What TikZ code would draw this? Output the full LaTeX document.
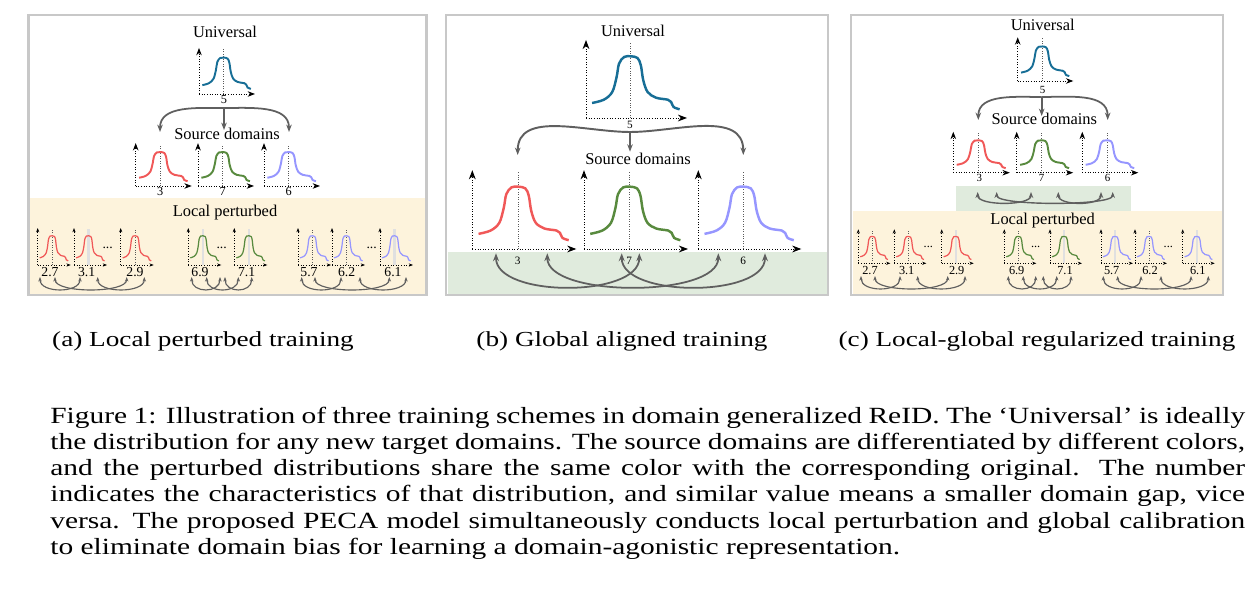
\documentclass[tikz,border=0pt]{standalone}
\usepackage{fontspec}
\setmainfont{Liberation Serif}
\newfontfamily\capfont[FakeStretch=1.27]{Liberation Serif}
\usetikzlibrary{arrows.meta}

\definecolor{unicol}{RGB}{23,110,150}
\definecolor{redcol}{RGB}{240,88,88}
\definecolor{greencol}{RGB}{88,138,62}
\definecolor{bluecol}{RGB}{150,150,255}
\definecolor{framecol}{RGB}{200,200,200}
\definecolor{localbg}{RGB}{253,243,220}
\definecolor{globalbg}{RGB}{224,235,221}
\definecolor{arrcol}{RGB}{95,95,95}

\tikzset{
  % one small distribution plot, 100 x 78 before scaling
  pics/dist/.style n args={4}{code={
    \draw[densely dotted, line width=0.5pt, -{Stealth[length=#3]}] (0,0) -- (0,-78);
    \draw[densely dotted, line width=0.5pt, -{Stealth[length=#3]}] (0,0) -- (100,0);
    \draw[#4] (44,0) -- (44,-76);
    \draw[#1, line width=#2] plot[smooth, tension=0.55] coordinates {(6,-15) (17.7,-18.3) (26,-26) (30.3,-41) (32.7,-54.3) (37.7,-61) (44.3,-61.7) (51,-60) (54.3,-52.7) (56.7,-37.7) (61,-26) (69.3,-20.3) (81,-18.3) (84.3,-16) (86.7,-11) (92.7,-8.7)};
  }},
  cdark/.style={black!65, densely dotted, line width=0.4pt},
  clight/.style={black!12, line width=1.3pt},
  frame/.style={draw=framecol, line width=1.4pt},
  ttl/.style={font=\fontsize{9.35}{11}\selectfont, inner sep=0pt, anchor=base},
  numlbl/.style={font=\fontsize{#1}{#1}\selectfont, inner sep=0pt, anchor=base},
  subcap/.style={font=\capfont\fontsize{12.2}{14}\selectfont, inner sep=0pt, anchor=base},
  capline/.style={font=\capfont\fontsize{13.2}{14.85}\selectfont, inner sep=0pt, anchor=base west},
  toparr/.style={arrcol, line width=#1, -{Stealth[length=4.2pt]}},
  duarr/.style 2 args={arrcol, line width=#1, {Stealth[length=#2]}-{Stealth[length=#2]}}
}

\begin{document}
\begin{tikzpicture}[x=0.02cm, y=-0.02cm]
    \useasboundingbox (0,0) rectangle (1258,597);

    % Backgrounds and frames
    \fill[localbg] (30,198) rectangle (425,293.6);
    \draw[frame] (28.5,15) rectangle (426.5,295);
    \fill[globalbg] (447.5,252) rectangle (826.5,293.6);
    \draw[frame] (446,15) rectangle (828,295);
    \fill[localbg] (852.5,211) rectangle (1221.5,293.6);
    \fill[globalbg] (956,186) rectangle (1131,211);
    \draw[frame] (851,15) rectangle (1223,295);

    % ---------- (a) Local perturbed training ----------
    \node[ttl] (a-uni) at (225,37.3) {Universal};
    \pic[xscale=.56, yscale=.59] at (199,94) {dist={unicol}{1.1pt}{4.2pt}{cdark}};
    \node[numlbl=7] (a-u5) at (224,104) {5};

    \coordinate (a-top) at (224,108);
    \coordinate (a-sl) at (160,132);
    \coordinate (a-sm) at (224,130);
    \coordinate (a-sr) at (289,132);
    \draw[toparr=1pt] (a-top) to[out=180, in=90] (a-sl);
    \draw[toparr=1pt] (a-top) -- (a-sm);
    \draw[toparr=1pt] (a-top) to[out=0, in=90] (a-sr);

    \node[ttl] (a-src) at (227,140) {Source domains};
    \pic[xscale=.56, yscale=.55] at (135.7,186) {dist={redcol}{1.1pt}{4.2pt}{cdark}};
    \pic[xscale=.56, yscale=.55] at (198,186) {dist={greencol}{1.1pt}{4.2pt}{cdark}};
    \pic[xscale=.56, yscale=.55] at (264,186) {dist={bluecol}{1.1pt}{4.2pt}{cdark}};
    \node[numlbl=7] (a-s3) at (160.3,196) {3};
    \node[numlbl=7] (a-s7) at (222.6,196) {7};
    \node[numlbl=7] (a-s6) at (288.6,196) {6};

    % local perturbed
    \node[ttl] (a-loc) at (225,216.7) {Local perturbed};
    \pic[xscale=.33, yscale=.474] at (37.7,265) {dist={redcol}{0.7pt}{2.4pt}{cdark}};
    \pic[xscale=.33, yscale=.474] at (74,265) {dist={redcol}{0.7pt}{2.4pt}{clight}};
    \pic[xscale=.33, yscale=.474] at (120.7,265) {dist={redcol}{0.7pt}{2.4pt}{cdark}};
    \pic[xscale=.33, yscale=.474] at (188.3,265) {dist={greencol}{0.7pt}{2.4pt}{clight}};
    \pic[xscale=.33, yscale=.474] at (234.3,265) {dist={greencol}{0.7pt}{2.4pt}{clight}};
    \pic[xscale=.33, yscale=.474] at (298,265) {dist={bluecol}{0.7pt}{2.4pt}{cdark}};
    \pic[xscale=.33, yscale=.474] at (332,265) {dist={bluecol}{0.7pt}{2.4pt}{cdark}};
    \pic[xscale=.33, yscale=.474] at (380,265) {dist={bluecol}{0.7pt}{2.4pt}{clight}};
    \node[numlbl=7.8] (a-l1) at (50,276.7) {2.7};
    \node[numlbl=7.8] (a-l2) at (86.7,276.7) {3.1};
    \node[numlbl=7.8] (a-l3) at (135,276.7) {2.9};
    \node[numlbl=7.8] (a-l4) at (200,276.7) {6.9};
    \node[numlbl=7.8] (a-l5) at (246.7,276.7) {7.1};
    \node[numlbl=7.8] (a-l6) at (309,276.7) {5.7};
    \node[numlbl=7.8] (a-l7) at (346.7,276.7) {6.2};
    \node[numlbl=7.8] (a-l8) at (393,276.7) {6.1};
    \node[numlbl=7.8] (a-d1) at (107.7,248.5) {...};
    \node[numlbl=7.8] (a-d2) at (221.7,248.5) {...};
    \node[numlbl=7.8] (a-d3) at (371.7,248.5) {...};

    \path (40,277) coordinate (ar1) (55,277) coordinate (ar2) (80,277) coordinate (ar3)
          (97.7,277) coordinate (ar4) (126.7,277) coordinate (ar5) (144.3,277) coordinate (ar6);
    \path (191.7,277) coordinate (ag1) (206.7,277) coordinate (ag2) (220,277) coordinate (ag3)
          (225,277) coordinate (ag4) (238.3,277) coordinate (ag5) (251.7,277) coordinate (ag6);
    \path (301.7,277) coordinate (ab1) (315,277) coordinate (ab2) (341,277) coordinate (ab3)
          (360,277) coordinate (ab4) (389.3,277) coordinate (ab5) (406,277) coordinate (ab6);
    \draw[duarr={0.65pt}{2.6pt}] (ar1) .. controls +(0,16.4) and +(0,16.4) .. (ar3);
    \draw[duarr={0.65pt}{2.6pt}] (ar2) .. controls +(0,16.4) and +(0,16.4) .. (ar5);
    \draw[duarr={0.65pt}{2.6pt}] (ar4) .. controls +(0,16.4) and +(0,16.4) .. (ar6);
    \draw[duarr={0.65pt}{2.6pt}] (ag1) .. controls +(0,16.4) and +(0,16.4) .. (ag3);
    \draw[duarr={0.65pt}{2.6pt}] (ag2) .. controls +(0,16.4) and +(0,16.4) .. (ag5);
    \draw[duarr={0.65pt}{2.6pt}] (ag4) .. controls +(0,16.4) and +(0,16.4) .. (ag6);
    \draw[duarr={0.65pt}{2.6pt}] (ab1) .. controls +(0,16.4) and +(0,16.4) .. (ab3);
    \draw[duarr={0.65pt}{2.6pt}] (ab2) .. controls +(0,16.4) and +(0,16.4) .. (ab5);
    \draw[duarr={0.65pt}{2.6pt}] (ab4) .. controls +(0,16.4) and +(0,16.4) .. (ab6);

    % ---------- (b) Global aligned training ----------
    \node[ttl] (b-uni) at (633,36.7) {Universal};
    \pic[xscale=1.01, yscale=1.0] at (586,118) {dist={unicol}{1.4pt}{5.2pt}{cdark}};
    \node[numlbl=6.4] (b-u5) at (630,129) {5};

    \coordinate (b-top) at (630,132);
    \coordinate (b-sl) at (517.7,155);
    \coordinate (b-sm) at (630,151.7);
    \coordinate (b-sr) at (743.3,155);
    \draw[toparr=1.1pt] (b-top) to[out=180, in=90] (b-sl);
    \draw[toparr=1.1pt] (b-top) -- (b-sm);
    \draw[toparr=1.1pt] (b-top) to[out=0, in=90] (b-sr);

    \node[ttl] (b-src) at (638,165) {Source domains};
    \pic[xscale=1.04, yscale=1.01] at (472.3,249) {dist={redcol}{1.4pt}{5.2pt}{cdark}};
    \pic[xscale=1.04, yscale=1.01] at (584,249) {dist={greencol}{1.4pt}{5.2pt}{cdark}};
    \pic[xscale=1.03, yscale=1.01] at (698.3,249) {dist={bluecol}{1.4pt}{5.2pt}{cdark}};
    \node[numlbl=6.4] (b-s3) at (517.7,264.3) {3};
    \node[numlbl=6.4] (b-s7) at (629.3,264.3) {7};
    \node[numlbl=6.4] (b-s6) at (743.3,264.3) {6};

    \path (496,253.3) coordinate (bg1) (547.3,253.3) coordinate (bg2) (621.7,253.3) coordinate (bg3)
          (639.3,253.3) coordinate (bg4) (718.3,253.3) coordinate (bg5) (765,253.3) coordinate (bg6);
    \draw[duarr={1pt}{4.5pt}] (bg1) .. controls +(0,44.5) and +(0,44.5) .. (bg4);
    \draw[duarr={1pt}{4.5pt}] (bg2) .. controls +(0,44.5) and +(0,44.5) .. (bg5);
    \draw[duarr={1pt}{4.5pt}] (bg3) .. controls +(0,44.5) and +(0,44.5) .. (bg6);

    % ---------- (c) Local-global regularized training ----------
    \node[ttl] (c-uni) at (1042.7,30.7) {Universal};
    \pic[xscale=.556, yscale=.56] at (1017.7,81) {dist={unicol}{1.1pt}{4.2pt}{cdark}};
    \node[numlbl=6.2] (c-u5) at (1042.7,93.3) {5};

    \coordinate (c-top) at (1041.7,97);
    \coordinate (c-sl) at (978.3,120);
    \coordinate (c-sm) at (1041.7,116);
    \coordinate (c-sr) at (1107.7,120);
    \draw[toparr=1pt] (c-top) to[out=180, in=90] (c-sl);
    \draw[toparr=1pt] (c-top) -- (c-sm);
    \draw[toparr=1pt] (c-top) to[out=0, in=90] (c-sr);

    \node[ttl] (c-src) at (1044.3,125) {Source domains};
    \pic[xscale=.565, yscale=.525] at (953.3,172.7) {dist={redcol}{1.1pt}{4.2pt}{cdark}};
    \pic[xscale=.565, yscale=.525] at (1016.7,172.7) {dist={greencol}{1.1pt}{4.2pt}{cdark}};
    \pic[xscale=.56, yscale=.525] at (1082.3,172.7) {dist={bluecol}{1.1pt}{4.2pt}{cdark}};
    \node[numlbl=6.2] (c-s3) at (979.3,181.7) {3};
    \node[numlbl=6.2] (c-s7) at (1041.7,181.7) {7};
    \node[numlbl=6.2] (c-s6) at (1107.7,181.7) {6};

    % global alignment band
    \path (977.7,192) coordinate (cg1) (996.7,192) coordinate (cg2) (1031,192) coordinate (cg3)
          (1058.3,192) coordinate (cg4) (1101,192) coordinate (cg5) (1112.7,192) coordinate (cg6);
    \draw[duarr={0.8pt}{3.4pt}] (cg1) .. controls +(0,14) and +(0,14) .. (cg3);
    \draw[duarr={0.8pt}{3.4pt}] (cg2) .. controls +(0,14) and +(0,14) .. (cg6);
    \draw[duarr={0.8pt}{3.4pt}] (cg4) .. controls +(0,14) and +(0,14) .. (cg5);

    % local perturbed
    \node[ttl] (c-loc) at (1042.7,225) {Local perturbed};
    \pic[xscale=.32, yscale=.436] at (858.3,263.3) {dist={redcol}{0.7pt}{2.4pt}{cdark}};
    \pic[xscale=.32, yscale=.436] at (894.3,263.3) {dist={redcol}{0.7pt}{2.4pt}{cdark}};
    \pic[xscale=.32, yscale=.436] at (941.7,263.3) {dist={redcol}{0.7pt}{2.4pt}{clight}};
    \pic[xscale=.32, yscale=.436] at (1004.3,263.3) {dist={greencol}{0.7pt}{2.4pt}{cdark}};
    \pic[xscale=.32, yscale=.436] at (1050,263.3) {dist={greencol}{0.7pt}{2.4pt}{clight}};
    \pic[xscale=.32, yscale=.436] at (1101,263.3) {dist={bluecol}{0.7pt}{2.4pt}{clight}};
    \pic[xscale=.32, yscale=.436] at (1135,263.3) {dist={bluecol}{0.7pt}{2.4pt}{cdark}};
    \pic[xscale=.32, yscale=.436] at (1182.7,263.3) {dist={bluecol}{0.7pt}{2.4pt}{clight}};
    \node[numlbl=7] (c-l1) at (870,275) {2.7};
    \node[numlbl=7] (c-l2) at (906.7,275) {3.1};
    \node[numlbl=7] (c-l3) at (956.7,275) {2.9};
    \node[numlbl=7] (c-l4) at (1016.7,275) {6.9};
    \node[numlbl=7] (c-l5) at (1065,275) {7.1};
    \node[numlbl=7] (c-l6) at (1111.7,275) {5.7};
    \node[numlbl=7] (c-l7) at (1150,275) {6.2};
    \node[numlbl=7] (c-l8) at (1197.7,275) {6.1};
    \node[numlbl=7] (c-d1) at (928.3,248) {...};
    \node[numlbl=7] (c-d2) at (1035.7,248) {...};
    \node[numlbl=7] (c-d3) at (1168.3,248) {...};

    \path (861,276) coordinate (cr1) (875,276) coordinate (cr2) (900,276) coordinate (cr3)
          (917.7,276) coordinate (cr4) (947.7,276) coordinate (cr5) (965,276) coordinate (cr6);
    \path (1008.3,276) coordinate (cn1) (1023.3,276) coordinate (cn2) (1035.7,276) coordinate (cn3)
          (1043.3,276) coordinate (cn4) (1056.7,276) coordinate (cn5) (1071,276) coordinate (cn6);
    \path (1103.3,276) coordinate (cb1) (1117.7,276) coordinate (cb2) (1141,276) coordinate (cb3)
          (1161,276) coordinate (cb4) (1191,276) coordinate (cb5) (1208.3,276) coordinate (cb6);
    \draw[duarr={0.65pt}{2.6pt}] (cr1) .. controls +(0,16.4) and +(0,16.4) .. (cr3);
    \draw[duarr={0.65pt}{2.6pt}] (cr2) .. controls +(0,16.4) and +(0,16.4) .. (cr5);
    \draw[duarr={0.65pt}{2.6pt}] (cr4) .. controls +(0,16.4) and +(0,16.4) .. (cr6);
    \draw[duarr={0.65pt}{2.6pt}] (cn1) .. controls +(0,16.4) and +(0,16.4) .. (cn3);
    \draw[duarr={0.65pt}{2.6pt}] (cn2) .. controls +(0,16.4) and +(0,16.4) .. (cn5);
    \draw[duarr={0.65pt}{2.6pt}] (cn4) .. controls +(0,16.4) and +(0,16.4) .. (cn6);
    \draw[duarr={0.65pt}{2.6pt}] (cb1) .. controls +(0,16.4) and +(0,16.4) .. (cb3);
    \draw[duarr={0.65pt}{2.6pt}] (cb2) .. controls +(0,16.4) and +(0,16.4) .. (cb5);
    \draw[duarr={0.65pt}{2.6pt}] (cb4) .. controls +(0,16.4) and +(0,16.4) .. (cb6);

    % Subcaptions
    \node[subcap] (cap-a) at (203,346.7) {(a) Local perturbed training};
    \node[subcap] (cap-b) at (622,346.7) {(b) Global aligned training};
    \node[subcap] (cap-c) at (1037,346.7) {(c) Local-global regularized training};

    % Caption
    \node[capline] (cap1) at (50,423.3) {\makebox[23.9cm][s]{Figure 1: Illustration of three training schemes in domain generalized ReID. The ‘Universal’ is ideally}};
    \node[capline] (cap2) at (50,449.5) {\makebox[23.9cm][s]{the distribution for any new target domains. The source domains are differentiated by different colors,}};
    \node[capline] (cap3) at (50,475.7) {\makebox[23.9cm][s]{and the perturbed distributions share the same color with the corresponding original. The number}};
    \node[capline] (cap4) at (50,501.9) {\makebox[23.9cm][s]{indicates the characteristics of that distribution, and similar value means a smaller domain gap, vice}};
    \node[capline] (cap5) at (50,528.1) {\makebox[23.9cm][s]{versa. The proposed PECA model simultaneously conducts local perturbation and global calibration}};
    \node[capline] (cap6) at (50,554.3) {to eliminate domain bias for learning a domain-agonistic representation.};
\end{tikzpicture}
\end{document}
